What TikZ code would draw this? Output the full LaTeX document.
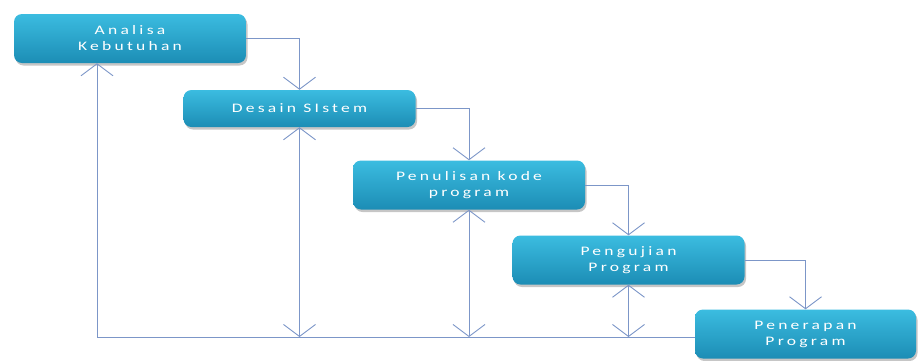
\documentclass[tikz,border=0pt]{standalone}
\usepackage{fontspec}
\setsansfont[LetterSpace=25,FakeStretch=1.35]{Carlito}
\usetikzlibrary{arrows.meta,shadows}
\definecolor{kotakatas}{HTML}{3BBCE0}
\definecolor{kotakbawah}{HTML}{1C8DB5}
\definecolor{garisbiru}{HTML}{7C96C8}

\begin{document}
\begin{tikzpicture}[x=1pt,y=-1pt,
    tahap/.style={draw=none, rounded corners=8pt, top color=kotakatas, bottom color=kotakbawah,
      drop shadow={shadow xshift=1.5pt, shadow yshift=-2.5pt, opacity=.45},
      minimum width=232pt, minimum height=49pt, align=center, text=white,
      font=\sffamily\fontsize{13}{16}\selectfont},
    garis/.style={draw=garisbiru, line width=.9pt},
    panah/.style={garis, -{Straight Barb[length=12pt,width=32pt]}},
    duaarah/.style={garis, {Straight Barb[length=12pt,width=32pt]}-{Straight Barb[length=12pt,width=32pt]}}]
  \useasboundingbox (0,0) rectangle (918,360);
  \node[tahap] (analisa) at (130,38.5) {Analisa\\Kebutuhan};
  \node[tahap, minimum height=37pt] (desain) at (299.5,108.5) {Desain SIstem};
  \node[tahap] (penulisan) at (469,185) {Penulisan kode\\program};
  \node[tahap] (pengujian) at (628.5,260) {Pengujian\\Program};
  \node[tahap, minimum width=221pt] (penerapan) at (805.5,334) {Penerapan\\Program};
  % alur turun
  \draw[panah] (analisa.east) -| (desain.north);
  \draw[panah] (desain.east) -| (penulisan.north);
  \draw[panah] (penulisan.east) -| (pengujian.north);
  \draw[panah] (pengujian.east) -| (penerapan.north);
  % alur balik
  \coordinate (balik) at (97,337);
  \draw[garis] (balik) -- (balik -| penerapan.west);
  \draw[panah] (balik) -- (balik |- analisa.south);
  \draw[duaarah] (desain.south) -- (desain.south |- balik);
  \draw[duaarah] (penulisan.south) -- (penulisan.south |- balik);
  \draw[duaarah] (pengujian.south) -- (pengujian.south |- balik);
\end{tikzpicture}
\end{document}
